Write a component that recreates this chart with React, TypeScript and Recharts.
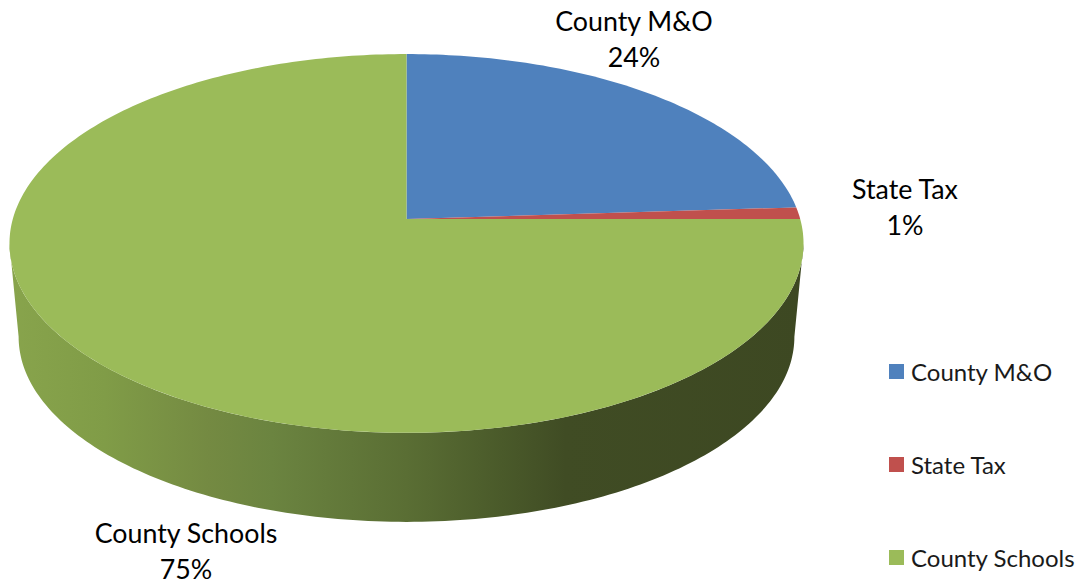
import React from "react";
import { PieChart, Pie, Legend } from "recharts";

const categories = ["County M&O", "State Tax", "County Schools"];
const shares = [24, 1, 75];
const colors = ["#4f81bd", "#c0504d", "#9bbb59"];
const tableData = categories.map((name, i) => ({ name, value: shares[i], fill: colors[i] }));

const FONT = "Lato, 'Open Sans', sans-serif";
// Perspective of the tilted disc
const PERSP = 0.129;
const SQUASH = 0.473;
const DEPTH = 94;
const BASE_SCALE = 0.977;
const FRONT_FROM = -7.4;
const FRONT_TO = -172.6;

const wallStops: [number, string][] = [
  [0, "#88a44c"],
  [0.12, "#809c47"],
  [0.25, "#748a42"],
  [0.33, "#6b8440"],
  [0.5, "#5a6e34"],
  [0.62, "#4a5a2a"],
  [0.7, "#404c24"],
  [1, "#3d4822"],
];

const labelAnchors = [
  { x: 634, y: 31 },
  { x: 905, y: 199 },
  { x: 186, y: 543 },
];

function project(cx: number, cy: number, r: number, deg: number, scale = 1, drop = 0) {
  const a = (deg * Math.PI) / 180;
  const u = Math.cos(a);
  const v = Math.sin(a);
  const w = 1 + PERSP * v;
  return {
    x: cx + (scale * r * u) / w,
    y: cy + drop - (scale * r * SQUASH * v) / w,
  };
}

function rim(cx: number, cy: number, r: number, from: number, to: number, scale = 1, drop = 0) {
  const n = Math.max(2, Math.ceil(Math.abs(to - from)));
  const out: string[] = [];
  for (let i = 0; i <= n; i++) {
    const p = project(cx, cy, r, from + ((to - from) * i) / n, scale, drop);
    out.push(`${p.x.toFixed(2)} ${p.y.toFixed(2)}`);
  }
  return out;
}

function DiscSector(props: any) {
  const { cx, cy, outerRadius, startAngle, endAngle, fill, index } = props;
  const top = rim(cx, cy, outerRadius, startAngle, endAngle);
  const face = `M${cx} ${cy} L${top.join(" L")} Z`;
  const from = Math.min(startAngle, FRONT_FROM);
  const to = Math.max(endAngle, FRONT_TO);
  let wall = null;
  if (from > to) {
    const upper = rim(cx, cy, outerRadius, from, to);
    const lower = rim(cx, cy, outerRadius, to, from, BASE_SCALE, DEPTH);
    const id = `wall-${index}`;
    wall = (
      <>
        <defs>
          <linearGradient id={id} x1="0" x2="1" y1="0" y2="0">
            {wallStops.map(([o, c]) => (
              <stop key={o} offset={o} stopColor={c} />
            ))}
          </linearGradient>
        </defs>
        <path d={`M${upper.join(" L")} L${lower.join(" L")} Z`} fill={`url(#${id})`} />
      </>
    );
  }
  return (
    <g>
      {wall}
      <path d={face} fill={fill} />
    </g>
  );
}

function renderLabel(props: any) {
  const { index, name, percent } = props;
  const a = labelAnchors[index];
  return (
    <text x={a.x} y={a.y} textAnchor="middle" fontFamily={FONT} fontSize={26.8} fill="#000">
      <tspan x={a.x}>{name}</tspan>
      <tspan x={a.x} dy={36}>{`${Math.round(percent * 100)}%`}</tspan>
    </text>
  );
}

function renderLegend(props: any) {
  const { payload } = props;
  return (
    <div style={{ position: "relative", width: 194, height: 240, fontFamily: FONT, fontSize: 24, color: "#1a1a1a" }}>
      {(payload || []).map((e: any, i: number) => (
        <div key={e.value} style={{ position: "absolute", left: 0, top: 10 + i * 93, height: 30, display: "flex", alignItems: "center", whiteSpace: "nowrap" }}>
          <span style={{ display: "inline-block", width: 15, height: 15, background: e.color, marginRight: 7 }} />
          <span>{e.value}</span>
        </div>
      ))}
    </div>
  );
}

export default function App() {
  return (
    <div style={{ position: "absolute", left: 0, top: 0, width: 1083, height: 585, background: "#fff", overflow: "hidden" }}>
      <PieChart width={1083} height={585} margin={{ top: 0, right: 0, bottom: 0, left: 0 }}>
        <Pie
          data={tableData}
          dataKey="value"
          nameKey="name"
          cx={406.5}
          cy={219}
          innerRadius={0}
          outerRadius={393.7}
          startAngle={90}
          endAngle={-270}
          stroke="none"
          isAnimationActive={false}
          shape={DiscSector}
          inactiveShape={DiscSector}
          label={renderLabel}
          labelLine={false}
        />
        <Legend itemSorter={null} content={renderLegend} wrapperStyle={{ left: 889, top: 346, width: 194, bottom: "auto", right: "auto" }} />
      </PieChart>
    </div>
  );
}
